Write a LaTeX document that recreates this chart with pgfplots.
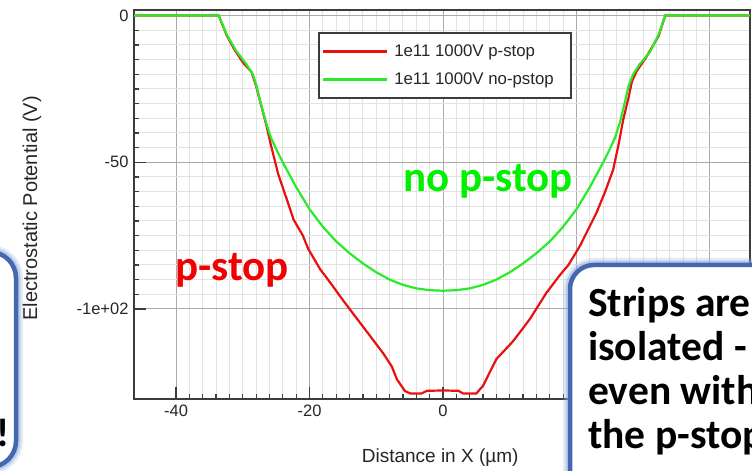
\documentclass[border=0pt]{standalone}
\usepackage{pgfplots}
\pgfplotsset{compat=1.18}
\usepackage{fontspec}
\setmainfont{Liberation Sans}
\newfontfamily\calibri{Carlito}
\definecolor{plred}{RGB}{232,16,16}
\definecolor{plgreen}{RGB}{40,236,40}
\definecolor{txtgreen}{RGB}{0,240,0}
\definecolor{txtred}{RGB}{240,0,0}
\definecolor{boxblue}{RGB}{68,103,175}
\definecolor{glowblue}{RGB}{140,170,220}
\definecolor{framec}{RGB}{60,60,60}
\definecolor{majgrid}{RGB}{170,170,170}
\definecolor{mingrid}{RGB}{226,226,226}
\begin{document}
\begin{tikzpicture}[x=1pt,y=1pt]
\useasboundingbox (0,0) rectangle (752,471);
\begin{axis}[
  at={(134pt,72pt)}, anchor=south west,
  scale only axis, width=616pt, height=389pt,
  xmin=-46.3, xmax=46.0, ymin=-130.7, ymax=1.9,
  xtick={-40,-20,0,20,40}, xticklabels={-40,-20,0,,},
  ytick={-100,-50,0}, yticklabels={-1e+02,-50,0},
  minor x tick num=9, minor y tick num=9,
  tick pos=left, tick align=inside,
  major tick length=12pt, minor tick length=5pt,
  tick style={draw=framec, line width=1.2pt},
  grid=both,
  major grid style={draw=majgrid, line width=1pt},
  minor grid style={draw=mingrid, line width=1pt},
  axis line style={draw=framec, line width=2pt},
  ticklabel style={font=\fontsize{16.5}{18}\selectfont, text=black!85},
  yticklabel style={anchor=east, xshift=-2pt},
  xticklabel style={anchor=north, yshift=-2pt},
  xlabel={Distance in X (µm)}, ylabel={Electrostatic Potential (V)},
  x label style={font=\fontsize{19}{22}\selectfont, text=black!85, at={(axis description cs:0.497,-0.1517)}, anchor=center},
  y label style={font=\fontsize{20}{22}\selectfont, text=black!85, at={(axis description cs:-0.1656,0.49)}, anchor=center, rotate=0},
  legend style={at={(rel axis cs:0.2987,0.9434)}, anchor=north west,
    draw=framec, line width=1.6pt, fill=white,
    font=\fontsize{16.8}{18}\selectfont, text=black!85,
    inner xsep=3pt, inner ysep=10pt, row sep=11pt, cells={anchor=west},
    /tikz/every odd column/.append style={column sep=4pt}},
  legend image code/.code={\draw[#1, line width=2.5pt] (0pt,0pt) -- (64pt,0pt);},
]
\addplot[plred, line width=2.2pt] coordinates {
(-46.3,0) (-33.6,0) (-32.4,-6.8) (-31.2,-11.8) (-29.9,-16.2) (-28.7,-19.2) (-28.0,-24) (-27.2,-31) (-26.4,-38) (-25.8,-44) (-24.7,-54) (-23.5,-62) (-22.4,-69.5) (-21.0,-75) (-20.2,-79.5) (-18.4,-86.5) (-16.9,-91) (-15.0,-97) (-13.0,-103) (-11.9,-106.3) (-10.0,-112) (-9.0,-115) (-7.7,-119.5) (-6.9,-124) (-5.7,-128) (-4.9,-128.8) (-3.2,-128.8) (-2.4,-127.9) (0,-127.8) (2.3,-127.9) (3.0,-128.8) (5.0,-128.8) (6.0,-126.2) (7.0,-121.6) (8.0,-117.1) (10.5,-111) (13.0,-103.5) (15.5,-94.5) (17.6,-88.2) (18.8,-85) (20.5,-78.6) (23.0,-67.2) (24.3,-60) (25.5,-52.5) (26.3,-44) (27.0,-35.5) (27.8,-28) (28.3,-22.5) (29.0,-19) (30.5,-14) (32.3,-7) (33.3,0) (46.0,0)
};
\addlegendentry{1e11 1000V p-stop\rule{12pt}{0pt}}
\addplot[plgreen, line width=2.2pt] coordinates {
(-46.3,0) (-33.6,0) (-32.4,-6.5) (-31.0,-12) (-29.5,-16.5) (-28.5,-20) (-28.0,-23.5) (-27.3,-30) (-26.5,-36.5) (-25.8,-41.5) (-25.0,-45.5) (-23.9,-50.5) (-22.0,-58.5) (-20.0,-66) (-18.0,-72) (-16.0,-77) (-14.0,-81) (-12.0,-84.5) (-10.0,-87.5) (-8.0,-90) (-6.0,-91.8) (-4.0,-93) (-2.0,-93.6) (0,-93.8) (2,-93.6) (4,-93) (6,-91.8) (8,-90) (10,-87.5) (12,-84.5) (14,-81) (16,-77) (18,-72) (20,-66) (22,-58.5) (23.9,-50.5) (25.0,-45.5) (25.8,-41.5) (26.5,-36.5) (27.2,-30) (27.8,-24) (28.5,-20) (29.5,-16.5) (31.0,-12.5) (32.3,-6.5) (33.3,0) (46.0,0)
};
\addlegendentry{1e11 1000V no-pstop\rule{12pt}{0pt}}
\end{axis}
% annotations
\node[anchor=base west, inner sep=0, text=txtgreen, font=\calibri\bfseries\fontsize{43}{45}\selectfont] at (403,279) {no p-stop};
\node[anchor=base west, inner sep=0, text=txtred, font=\calibri\bfseries\fontsize{43}{45}\selectfont] at (175,190) {p-stop};
% right callout box
\draw[glowblue, opacity=0.25, line width=14pt, rounded corners=24pt] (570,-40) rectangle (820,206);
\draw[glowblue, opacity=0.45, line width=9pt, rounded corners=24pt] (570,-40) rectangle (820,206);
\draw[boxblue, line width=4.5pt, fill=white, rounded corners=24pt] (570,-40) rectangle (820,206);
\begin{scope}[every node/.style={anchor=base west, inner sep=0, text=black, font=\calibri\bfseries\fontsize{41.5}{44}\selectfont}]
\node at (588,154) {Strips are};
\node at (588,110) {isolated -};
\node at (588,66) {even with};
\node at (588,22) {the p-stop};
\end{scope}
% left callout box
\draw[glowblue, opacity=0.25, line width=14pt, rounded corners=26pt] (-200,4) rectangle (16,219);
\draw[glowblue, opacity=0.45, line width=9pt, rounded corners=26pt] (-200,4) rectangle (16,219);
\draw[boxblue, line width=4.5pt, fill=white, rounded corners=26pt] (-200,4) rectangle (16,219);
\node[anchor=base east, inner sep=0, text=black, font=\calibri\bfseries\fontsize{40}{44}\selectfont] at (10,24) {!};
\end{tikzpicture}
\end{document}
